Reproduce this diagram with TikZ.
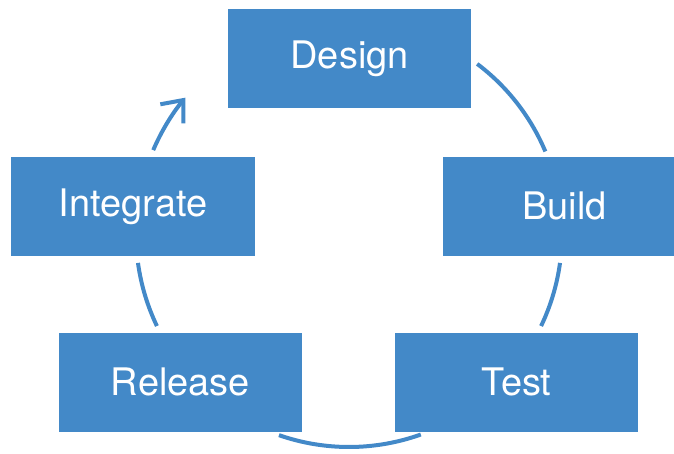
\documentclass[tikz,border=0pt]{standalone}
\usepackage{fontspec}
\setmainfont{TeX Gyre Heros}
\usetikzlibrary{arrows.meta}
\definecolor{stageblue}{HTML}{4389C8}

\tikzset{
  stage/.style={fill=stageblue,minimum width=6.075cm,minimum height=2.475cm,inner sep=0pt,
    text=white,font=\fontsize{27}{32}\selectfont},
  ring/.style={draw=stageblue,line width=0.1cm},
}

\begin{document}
\begin{tikzpicture}[x=1cm,y=1cm]
\useasboundingbox (0,0) rectangle (16.85,-11.35);
\coordinate (hub) at (8.725,-5.85);
% the five stages of the cycle
\node[stage] (design) at (8.74,-1.46) {Design};
\node[stage] (build) at (14.11,-5.16) {Build};
\node[stage] (test) at (12.91,-9.56) {Test};
\node[stage] (release) at (4.51,-9.56) {Release};
\node[stage] (integrate) at (3.325,-5.175) {Integrate};
% arcs of the circle between the boxes, clockwise
\draw[ring] ([shift={(53.0:5.325)}]hub) arc[start angle=53.0,end angle=22.8,radius=5.325];
\draw[ring] ([shift={(-7.8:5.325)}]hub) arc[start angle=-7.8,end angle=-25.6,radius=5.325];
\draw[ring] ([shift={(-70.3:5.325)}]hub) arc[start angle=-70.3,end angle=-109.2,radius=5.325];
\draw[ring] ([shift={(205.6:5.325)}]hub) arc[start angle=205.6,end angle=187.8,radius=5.325];
\draw[ring,-{Straight Barb[length=0.45cm,width=0.75cm]}] ([shift={(156.8:5.325)}]hub) arc[start angle=156.8,end angle=140.2,radius=5.325];
\end{tikzpicture}
\end{document}
